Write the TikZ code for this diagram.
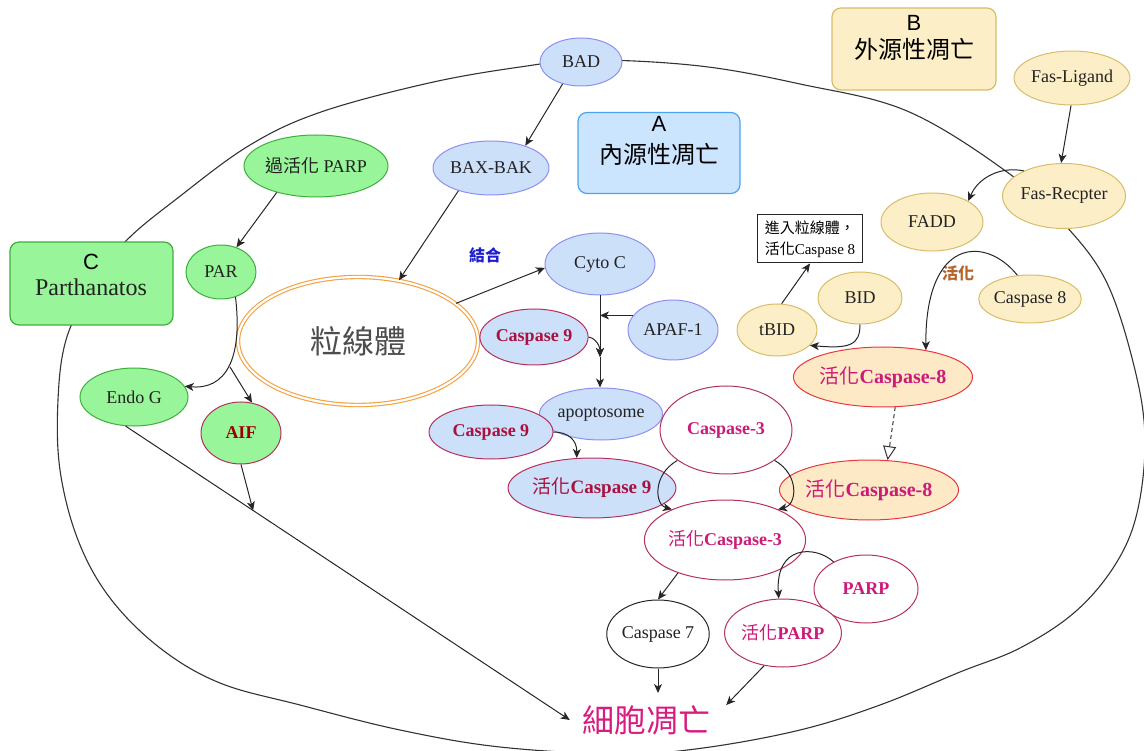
\documentclass[tikz,border=0pt]{standalone}
\usepackage{fontspec}
\setmainfont{Liberation Serif}
\newfontfamily\cjk{Noto Sans CJK TC}
\newfontfamily\lsans{Liberation Sans}
\usetikzlibrary{shapes.geometric,arrows.meta,calc}
\newcommand\zh[1]{{\cjk\mdseries #1}}
\definecolor{bfill}{HTML}{CCE0FA}
\definecolor{bdraw}{HTML}{8F8FF0}
\definecolor{afill}{HTML}{CCE5FF}
\definecolor{adraw}{HTML}{4DA3F0}
\definecolor{gfill}{HTML}{99F599}
\definecolor{gdraw}{HTML}{3DAF3D}
\definecolor{yfill}{HTML}{FCEFC7}
\definecolor{ydraw}{HTML}{D9BC6A}
\definecolor{ofill}{HTML}{FDE9C6}
\definecolor{rdraw}{HTML}{E8383D}
\definecolor{cdraw}{HTML}{B5305C}
\definecolor{ctext}{HTML}{A8123F}
\definecolor{mtext}{HTML}{CC1A78}
\definecolor{orangeline}{HTML}{F5A040}
\definecolor{ntext}{HTML}{222222}
\definecolor{jiehe}{HTML}{1F1FCC}
\definecolor{huohua}{HTML}{B5652A}
\definecolor{deathc}{HTML}{D81B7F}
\definecolor{aiftext}{HTML}{990000}
\definecolor{mitotext}{HTML}{4D4D4D}
\begin{document}
\begin{tikzpicture}[x=1pt,y=-1pt,
  nd/.style={ellipse, draw, line width=1pt, inner sep=0pt, text=ntext, font=\rmfamily\fontsize{18}{20}\selectfont},
  bnode/.style={nd, fill=bfill, draw=bdraw},
  gnode/.style={nd, fill=gfill, draw=gdraw},
  ynode/.style={nd, fill=yfill, draw=ydraw},
  cninenode/.style={nd, fill=bfill, draw=cdraw, text=ctext, font=\rmfamily\fontsize{18}{20}\selectfont\bfseries},
  cthreenode/.style={nd, fill=white, draw=cdraw, text=mtext, font=\rmfamily\fontsize{18}{20}\selectfont\bfseries},
  ceightnode/.style={nd, fill=ofill, draw=rdraw, text=mtext, font=\rmfamily\fontsize{20}{22}\selectfont\bfseries},
  bigbox/.style={rectangle, rounded corners=9pt, line width=1.2pt, inner sep=0pt},
  arr/.style={-{Stealth[length=9pt,width=8pt,inset=2.5pt]}, line width=1pt, draw=black!85},
  dasharr/.style={-{Triangle[open,length=14pt,width=13pt]}, line width=1pt, dashed, dash pattern=on 4pt off 3pt, draw=black!80},
  cell/.style={line width=1.1pt, draw=black!80}
]
\useasboundingbox (0,0) rectangle (1144,751);
% cell outline
\draw[cell] plot[smooth cycle, tension=0.6] coordinates {(590,60) (700,66) (800,84) (907,111) (1007,172) (1065,225) (1107,283) (1135,370) (1145,440) (1137,513) (1115,565) (1075,612) (1020,648) (960,672) (880,705) (800,730) (703,748) (620,754) (500,747) (400,730) (300,705) (220,683) (160,648) (110,598) (78,540) (60,470) (58,400) (66,340) (90,290) (125,242) (179,197) (250,145) (321,112) (429,83) (520,67)};

% title boxes
\node[bigbox, draw=adraw, fill=afill, minimum width=162pt, minimum height=81pt] (boxA) at (659,153) {};
\node[font=\lsans\fontsize{22}{24}\selectfont] (labA) at (659,124) {A};
\node[font=\cjk\fontsize{24}{26}\selectfont] (txtA) at (659,154) {內源性凋亡};
\node[bigbox, draw=ydraw, fill=yfill, minimum width=164pt, minimum height=82pt] (boxB) at (914,49) {};
\node[font=\lsans\fontsize{22}{24}\selectfont] (labB) at (914,23) {B};
\node[font=\cjk\fontsize{24}{26}\selectfont] (txtB) at (914,49) {外源性凋亡};
\node[bigbox, draw=gdraw, fill=gfill, minimum width=163pt, minimum height=83pt] (boxC) at (91.5,283.5) {};
\node[font=\lsans\fontsize{22}{24}\selectfont] (labC) at (91,262) {C};
\node[font=\rmfamily\fontsize{24}{26}\selectfont, text=ntext] (txtC) at (91,287) {Parthanatos};

% intrinsic
\node[bnode, minimum width=82pt, minimum height=48pt] (bad) at (581,62) {BAD};
\node[bnode, minimum width=110pt, minimum height=54pt] (baxbak) at (491,168) {BAX-BAK};
\node[ellipse, draw=orangeline, double=white, double distance=2.2pt, line width=1.1pt, fill=white,
      minimum width=240pt, minimum height=128pt, inner sep=0pt, text=mitotext,
      font=\cjk\fontsize{32}{34}\selectfont] (mito) at (358,341) {粒線體};
\node[text=jiehe, font=\cjk\bfseries\fontsize{16}{18}\selectfont] (jh) at (485,255) {結合};
\node[bnode, minimum width=110pt, minimum height=62pt] (cytoc) at (600,264) {Cyto C};
\node[bnode, minimum width=90pt, minimum height=60pt] (apaf) at (673,330) {APAF-1};
\node[cninenode, minimum width=96pt, minimum height=56pt] (casp9a) at (534,337) {Caspase 9};
\node[bnode, minimum width=106pt, minimum height=52pt] (apopt) at (601,414) {apoptosome};
\node[cninenode, minimum width=124pt, minimum height=54pt] (casp9b) at (491,432) {Caspase 9};
\node[cninenode, minimum width=136pt, minimum height=60pt, font=\rmfamily\fontsize{19}{21}\selectfont\bfseries] (acasp9) at (592,488) {\zh{活化}Caspase 9};
\node[cthreenode, minimum width=132pt, minimum height=88pt] (casp3) at (726,430) {Caspase-3};
\node[cthreenode, minimum width=126pt, minimum height=80pt] (acasp3) at (725,540) {\zh{活化}Caspase-3};
\node[nd, fill=white, draw=black!85, minimum width=102pt, minimum height=68pt] (casp7) at (658,634) {Caspase 7};
\node[cthreenode, minimum width=104pt, minimum height=68pt] (parp) at (866,589) {PARP};
\node[cthreenode, minimum width=100pt, minimum height=68pt] (aparp) at (783,633) {\zh{活化}PARP};
\node[text=deathc, font=\cjk\fontsize{32}{34}\selectfont, inner sep=12pt] (death) at (646,720) {細胞凋亡};

% extrinsic
\node[ynode, minimum width=110pt, minimum height=54pt] (fasl) at (1072,78) {Fas-Ligand};
\node[ynode, minimum width=111pt, minimum height=65pt] (fasr) at (1064,196) {Fas-Recpter};
\node[ynode, minimum width=102pt, minimum height=58pt] (fadd) at (932,222) {FADD};
\node[ynode, minimum width=96pt, minimum height=48pt] (casp8) at (1030,299) {Caspase 8};
\node[ynode, minimum width=84pt, minimum height=52pt] (bid) at (860,298) {BID};
\node[ynode, minimum width=80pt, minimum height=52pt] (tbid) at (777,330) {tBID};
\node[rectangle, draw=black!85, fill=white, line width=1pt, inner sep=2pt, align=left,
      minimum width=105pt, minimum height=48pt, font=\rmfamily\fontsize{15}{21}\selectfont] (tbox) at (810,239) {\zh{進入粒線體，}\\\zh{活化}Caspase 8};
\node[text=huohua, font=\cjk\bfseries\fontsize{16}{18}\selectfont] (hh) at (958,273) {活化};
\node[ceightnode, minimum width=146pt, minimum height=60pt] (acasp8a) at (883,377) {\zh{活化}Caspase-8};
\node[ceightnode, minimum width=144pt, minimum height=60pt] (acasp8b) at (869,490) {\zh{活化}Caspase-8};

% parthanatos
\node[gnode, minimum width=124pt, minimum height=62pt] (ppar) at (316,166) {\zh{過活化} PARP};
\node[gnode, minimum width=70pt, minimum height=54pt] (par) at (221,272) {PAR};
\node[gnode, minimum width=108pt, minimum height=58pt] (endog) at (134,397) {Endo G};
\node[gnode, draw=cdraw, text=aiftext, font=\rmfamily\fontsize{18}{20}\selectfont\bfseries, minimum width=80pt, minimum height=62pt] (aif) at (241,433) {AIF};

% connectors: intrinsic
\draw[arr] (bad.230) -- (baxbak.33);
\draw[arr] (baxbak.215) -- (mito.56);
\draw[arr] (mito.21) -- (cytoc.184);
\coordinate (jc) at (cytoc.south |- 0,357);
\draw[arr] (cytoc.south) -- (jc);
\draw[arr] (jc) -- (cytoc.south |- apopt.north);
\draw[arr] (apaf.160) -- (apaf.160 -| cytoc.south);
\draw[arr] (casp9a.east) .. controls (592,337) and (600,343) .. (jc);
\draw[arr] (casp9b.east) .. controls (568,432) and (577,440) .. (acasp9.117);
\draw[arr] (casp3.212) .. controls (652,475) and (655,505) .. (acasp3.150);
\draw[arr] (casp3.328) .. controls (800,475) and (797,505) .. (acasp3.30);
\draw[arr] (acasp3.215) -- (casp7.north);
\draw[arr] (parp.140) .. controls (815,545) and (775,545) .. (aparp.97);
\draw[arr] (casp7.south) -- (casp7.south |- death.north);
\draw[arr] (aparp.240) -- ($(death.north east)+(4,12)$);

% connectors: extrinsic
\draw[arr] (fasl.268) -- (fasr.95);
\draw[arr] (fasr.148) .. controls (1000,166) and (978,178) .. (fadd.30);
\draw[arr] (casp8.118) .. controls (985,235) and (925,238) .. (acasp8a.32);
\draw[arr] (bid.south) .. controls (860,345) and (850,349) .. (tbid.335);
\draw[arr] (tbid.80) -- (tbox.south);
\draw[dasharr] (acasp8a.292) -- (acasp8b.58);

% connectors: parthanatos
\draw[arr] (ppar.214) -- (par.58);
\coordinate (parj) at (230,367);
\draw[arr] (par.300) .. controls (243,360) and (225,390) .. (endog.12);
\draw[arr] (parj) -- (aif.70);
\draw[arr] (endog.254) -- (death.west);
\coordinate (aifj) at ($(endog.254)!0.287!(death.west)$);
\draw[arr] (aif.south) -- (aifj);
\end{tikzpicture}
\end{document}
